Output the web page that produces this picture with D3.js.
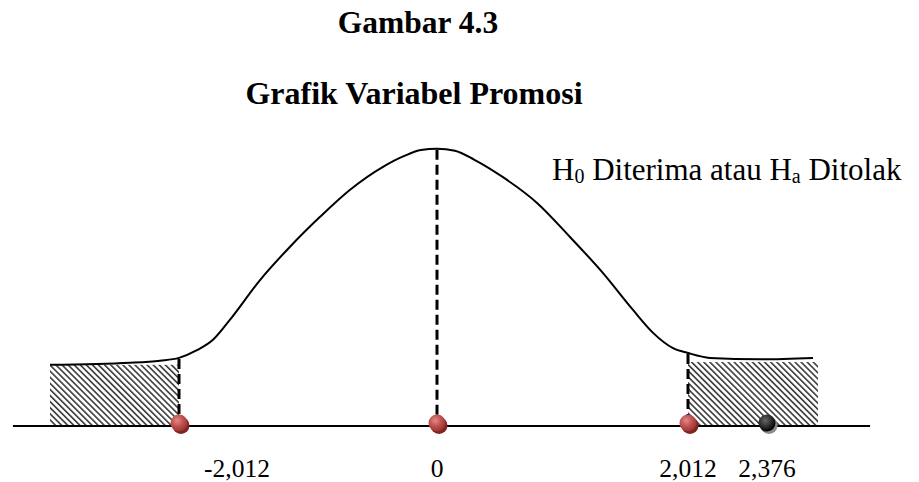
<!DOCTYPE html>
<html>
<head>
<meta charset="utf-8">
<script src="https://cdn.jsdelivr.net/npm/d3@7"></script>
<style>
  body { margin: 0; background: #fff; }
  text { font-family: "Times New Roman", "Liberation Serif", serif; fill: #000; }
</style>
</head>
<body>
<div id="chart"></div>
<script>
    // nilai t pada sumbu
    var tickValues = [-2.012, 0, 2.012, 2.376];
    var tickLabels = ["-2,012", "0", "2,012", "2,376"];
    var kritis = [-2.012, 0, 2.012];   // titik merah
    var tHitung = 2.376;               // titik hitam

    // kurva: t dan tinggi kurva
    var curveT = [-3.018, -2.394, -2.160, -2.012, -1.872, -1.747, -1.614, -1.380, -1.146, -0.912,
                  -0.678, -0.421, -0.250, -0.125, 0, 0.144, 0.300, 0.529, 0.802, 1.066,
                  1.331, 1.571, 1.732, 1.892, 2.012, 2.113, 2.344, 2.588];
    var curveD = [0.088, 0.091, 0.094, 0.098, 0.109, 0.124, 0.153, 0.210, 0.258, 0.301,
                  0.340, 0.373, 0.389, 0.397, 0.399, 0.396, 0.383, 0.358, 0.321, 0.272,
                  0.220, 0.167, 0.134, 0.112, 0.105, 0.098, 0.096, 0.098];

    // daerah penolakan (arsir)
    var tolakKiri = [-3.018, -2.012], tinggiKiri = 0.088;
    var tolakKanan = [2.012, 2.611], tinggiKanan = 0.092;
    var sumbuT = [-3.307, 2.851];

    var width = 919, height = 482;

    var svg = d3.select("#chart")
      .append("svg")
      .attr("width", width)
      .attr("height", height);

    // skala x (sketsa, tidak proporsional di ujung kanan)
    var x = d3.scaleLinear()
      .domain(tickValues)
      .range([179, 437, 688, 767]);

    var y = d3.scaleLinear()
      .domain([0, 0.4])
      .range([426, 148]);

    var defs = svg.append("defs");
    var pat = defs.append("pattern")
      .attr("id", "arsir")
      .attr("patternUnits", "userSpaceOnUse")
      .attr("width", 4.3)
      .attr("height", 10)
      .attr("patternTransform", "rotate(-45)");
    pat.append("rect")
      .attr("width", 1.6)
      .attr("height", 10)
      .attr("fill", "#3a3a3a");

    // gradien titik
    var gMerah = defs.append("radialGradient").attr("id", "merah")
      .attr("cx", "40%").attr("cy", "35%").attr("r", "65%");
    gMerah.append("stop").attr("offset", "0%").attr("stop-color", "#e08a88");
    gMerah.append("stop").attr("offset", "55%").attr("stop-color", "#c0504d");
    gMerah.append("stop").attr("offset", "100%").attr("stop-color", "#9c3533");
    var gHitam = defs.append("radialGradient").attr("id", "hitam")
      .attr("cx", "40%").attr("cy", "35%").attr("r", "65%");
    gHitam.append("stop").attr("offset", "0%").attr("stop-color", "#666");
    gHitam.append("stop").attr("offset", "60%").attr("stop-color", "#2a2a2a");
    gHitam.append("stop").attr("offset", "100%").attr("stop-color", "#000");

    // Judul
    svg.append("text")
      .attr("x", 418).attr("y", 33)
      .attr("text-anchor", "middle")
      .style("font-size", "31.5px").style("font-weight", "bold")
      .text("Gambar 4.3");
    svg.append("text")
      .attr("x", 414).attr("y", 104)
      .attr("text-anchor", "middle")
      .style("font-size", "32px").style("font-weight", "bold")
      .text("Grafik Variabel Promosi");

    // arsir
    svg.append("rect")
      .attr("x", x(tolakKiri[0]))
      .attr("y", y(tinggiKiri))
      .attr("width", x(tolakKiri[1]) - x(tolakKiri[0]))
      .attr("height", y(0) - y(tinggiKiri))
      .attr("fill", "url(#arsir)");
    svg.append("rect")
      .attr("x", x(tolakKanan[0]))
      .attr("y", y(tinggiKanan))
      .attr("width", x(tolakKanan[1]) - x(tolakKanan[0]))
      .attr("height", y(0) - y(tinggiKanan))
      .attr("fill", "url(#arsir)");

    // kurva
    var kurva = curveT.map(function (t, i) { return [t, curveD[i]]; });
    svg.append("path")
      .datum(kurva)
      .attr("fill", "none")
      .attr("stroke", "#000")
      .attr("stroke-width", 2)
      .attr("d", d3.line()
        .x(function (d) { return x(d[0]); })
        .y(function (d) { return y(d[1]); })
        .curve(d3.curveMonotoneX));

    // garis putus-putus
    kritis.forEach(function (t) {
      var i = curveT.indexOf(t);
      svg.append("line")
        .attr("x1", x(t)).attr("x2", x(t))
        .attr("y1", y(curveD[i]) + 1).attr("y2", y(0) - 4)
        .attr("stroke", "#000")
        .attr("stroke-width", 3)
        .style("stroke-dasharray", "10, 5");
    });

    // sumbu
    svg.append("line")
      .attr("x1", x(sumbuT[0])).attr("x2", x(sumbuT[1]))
      .attr("y1", y(0)).attr("y2", y(0))
      .attr("stroke", "#000")
      .attr("stroke-width", 2);

    // titik
    var titik = kritis.map(function (t) { return { t: t, w: "merah" }; })
      .concat([{ t: tHitung, w: "hitam" }]);
    svg.selectAll(".bayang").data(titik).enter().append("circle")
      .attr("cx", function (d) { return x(d.t) + 2; })
      .attr("cy", y(0) - 0.5)
      .attr("r", 8.5)
      .attr("fill", function (d) { return d.w == "merah" ? "#7e2422" : "#8a8a8a"; });
    svg.selectAll(".titik").data(titik).enter().append("circle")
      .attr("cx", function (d) { return x(d.t); })
      .attr("cy", y(0) - 3)
      .attr("r", 8.5)
      .attr("fill", function (d) { return "url(#" + d.w + ")"; });

    // label sumbu (label negatif digeser ke kanan seperti pada gambar)
    svg.selectAll(".lbl").data(tickValues).enter().append("text")
      .attr("x", function (d) { return x(d) + (d < 0 ? 58 : 0); })
      .attr("y", 477)
      .attr("text-anchor", "middle")
      .style("font-size", "25.5px")
      .text(function (d, i) { return tickLabels[i]; });

    // keterangan
    var ket = svg.append("text")
      .attr("x", 552).attr("y", 180)
      .style("font-size", "31px");
    ket.append("tspan").text("H");
    ket.append("tspan").attr("dy", 3).style("font-size", "20px").text("0");
    ket.append("tspan").attr("dy", -3).text(" Diterima atau H");
    ket.append("tspan").attr("dy", 3).style("font-size", "20px").text("a");
    ket.append("tspan").attr("dy", -3).text(" Ditolak");
</script>
</body>
</html>
